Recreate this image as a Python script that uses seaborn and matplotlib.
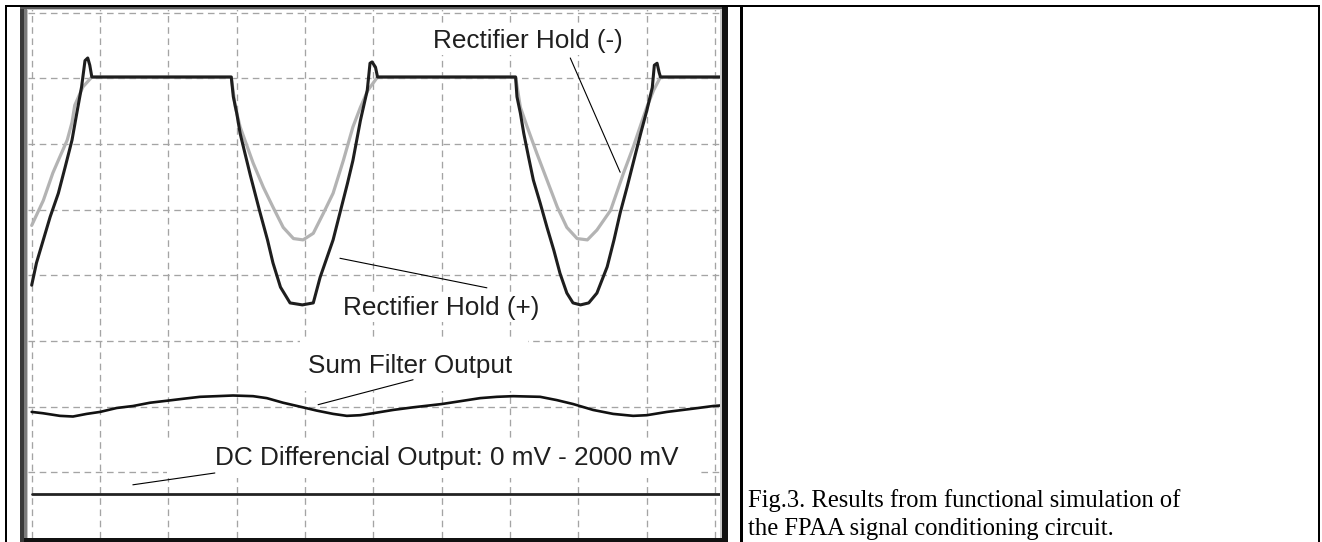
"""
Oscilloscope-style trace of the FPAA rectifier / filter outputs, with caption cell.
Run: python plot.py  -> out.png
"""
import matplotlib
matplotlib.use("Agg")
import matplotlib.pyplot as plt
from matplotlib.patches import Rectangle
import seaborn as sns
import pandas as pd

W, H = 1322, 542

# x in screen divisions (0..10), y in vertical divisions (0..8)
hold_pos_x = [0, 0.07, 0.17, 0.27, 0.39, 0.49, 0.59, 0.66, 0.73, 0.78, 0.82, 0.85, 0.88,
              2.92, 2.95, 3.00, 3.05, 3.12, 3.20, 3.24, 3.34, 3.45, 3.53, 3.64, 3.78, 3.96,
              4.12, 4.22, 4.41, 4.51, 4.62, 4.70, 4.81, 4.91, 4.95, 4.98, 5.03, 5.06,
              7.08, 7.10, 7.15, 7.20, 7.27, 7.34, 7.44, 7.54, 7.64, 7.73, 7.83, 7.92, 8.03,
              8.15, 8.27, 8.42, 8.52, 8.61, 8.71, 8.81, 8.91, 9.00, 9.08, 9.11, 9.15, 9.18,
              9.20, 10.1]
hold_pos_y = [3.85, 4.19, 4.54, 4.89, 5.25, 5.65, 6.06, 6.47, 6.87, 7.27, 7.31, 7.20, 7.02,
              7.02, 6.72, 6.47, 6.16, 5.86, 5.52, 5.36, 4.96, 4.54, 4.19, 3.82, 3.58, 3.55,
              3.58, 3.97, 4.54, 4.95, 5.40, 5.75, 6.36, 6.82, 7.23, 7.25, 7.17, 7.02,
              7.02, 6.72, 6.47, 6.16, 5.80, 5.45, 5.10, 4.73, 4.38, 4.03, 3.73, 3.58, 3.55,
              3.58, 3.73, 4.13, 4.54, 4.95, 5.34, 5.75, 6.16, 6.51, 6.86, 7.20, 7.23, 7.09,
              7.02, 7.02]

hold_neg_x = [0, 0.17, 0.31, 0.41, 0.52, 0.59, 0.63, 0.75, 0.88,
              2.92, 2.98, 3.05, 3.24, 3.39, 3.53, 3.68, 3.83, 3.97, 4.12, 4.27, 4.41, 4.56,
              4.70, 4.81, 4.92, 5.06,
              7.08, 7.15, 7.25, 7.39, 7.54, 7.69, 7.83, 7.98, 8.13, 8.27, 8.47, 8.66, 8.80,
              8.95, 9.00, 9.10, 9.20, 10.1]
hold_neg_y = [4.76, 5.14, 5.56, 5.80, 6.06, 6.33, 6.59, 6.87, 7.02,
              7.02, 6.56, 6.26, 5.71, 5.34, 5.04, 4.73, 4.56, 4.54, 4.64, 4.95, 5.25, 5.75,
              6.26, 6.56, 6.82, 7.02,
              7.02, 6.56, 6.26, 5.86, 5.45, 5.04, 4.73, 4.56, 4.54, 4.69, 4.99, 5.56, 5.95,
              6.41, 6.56, 6.82, 7.02, 7.02]

sum_x = [0, 0.165, 0.414, 0.604, 0.805, 1.0, 1.244, 1.483, 1.731, 1.976, 2.214, 2.463,
         2.708, 2.946, 3.239, 3.440, 3.678, 3.927, 4.171, 4.410, 4.611, 4.805, 4.995,
         5.287, 5.580, 6.0, 6.312, 6.561, 6.805, 7.044, 7.439, 7.683, 7.922, 8.214,
         8.507, 8.800, 9.0, 9.293, 9.678, 9.971, 10.1]
sum_y = [1.92, 1.90, 1.86, 1.85, 1.89, 1.92, 1.98, 2.01, 2.06, 2.09, 2.12, 2.15,
         2.16, 2.17, 2.16, 2.13, 2.06, 2.00, 1.94, 1.89, 1.86, 1.87, 1.90,
         1.95, 1.99, 2.04, 2.09, 2.13, 2.15, 2.16, 2.15, 2.10, 2.04, 1.95,
         1.89, 1.86, 1.87, 1.92, 1.97, 2.01, 2.02]

dc_x = [0, 10.1]
dc_y = [0.665, 0.665]

caption = ["Fig.3. Results from functional simulation of",
           "the FPAA signal conditioning circuit."]

sns.set_theme(style="white")
plt.rcParams["font.family"] = ["Liberation Sans", "DejaVu Sans"]


def fig_box(x0, y0, x1, y1):
    # pixel box (top-left origin) -> figure fraction [l, b, w, h]
    return [x0 / W, 1 - y1 / H, (x1 - x0) / W, (y1 - y0) / H]


def px_rect(fig, x0, y0, x1, y1, color):
    l, b, w, h = fig_box(x0, y0, x1, y1)
    fig.add_artist(Rectangle((l, b), w, h, transform=fig.transFigure,
                             facecolor=color, edgecolor="none", zorder=10))


fig = plt.figure(figsize=(W / 100, H / 100), dpi=100)
ax = fig.add_axes(fig_box(28, 9, 722, 538))
ax.set_xlim(-0.054, 10.10)
ax.set_ylim(0, 8.056)
ax.axis("off")

# --- dashed screen grid ---
grid_kw = dict(color="#a4a4a4", lw=0.95, linestyle=(0, (5, 3.5)), zorder=1)
for v in range(11):
    ax.axvline(v, **grid_kw)
for h in range(1, 9):
    ax.axhline(h, **grid_kw)

# white label backgrounds that cut the grid
ax.add_patch(Rectangle((3.93, 2.24), 3.33, 0.81, facecolor="white", edgecolor="none", zorder=1.5))
ax.add_patch(Rectangle((1.98, 0.91), 7.80, 0.55, facecolor="white", edgecolor="none", zorder=1.5))

# --- traces ---
neg = pd.DataFrame({"x": hold_neg_x, "y": hold_neg_y})
pos = pd.DataFrame({"x": hold_pos_x, "y": hold_pos_y})
filt = pd.DataFrame({"x": sum_x, "y": sum_y})
dc = pd.DataFrame({"x": dc_x, "y": dc_y})

sns.lineplot(data=neg, x="x", y="y", ax=ax, sort=False, estimator=None,
             color="#b3b3b3", linewidth=2.3, zorder=3)
sns.lineplot(data=pos, x="x", y="y", ax=ax, sort=False, estimator=None,
             color="#1e1e1e", linewidth=2.2, zorder=4)
sns.lineplot(data=filt, x="x", y="y", ax=ax, sort=False, estimator=None,
             color="#111111", linewidth=1.9, zorder=4)
sns.lineplot(data=dc, x="x", y="y", ax=ax, sort=False, estimator=None,
             color="#222222", linewidth=2.0, zorder=4)

# --- labels and leader lines ---
lab_kw = dict(fontsize=18.8, color="#1f1f1f", va="baseline", ha="left", zorder=5)
box = dict(facecolor="white", edgecolor="none", pad=1.5)
ax.text(5.87, 7.46, "Rectifier Hold (-)", bbox=box, **lab_kw)
ax.text(4.56, 3.40, "Rectifier Hold (+)", bbox=box, **lab_kw)
ax.text(4.04, 2.51, "Sum Filter Output", **lab_kw)
ax.text(2.68, 1.11, "DC Differencial Output: 0 mV - 2000 mV", **lab_kw)

lead = dict(arrowstyle="-", color="black", lw=0.8, shrinkA=0, shrinkB=0)
for tip, tail in [((8.61, 5.57), (7.88, 7.31)),
                  ((4.51, 4.26), (6.66, 3.81)),
                  ((4.19, 2.03), (5.58, 2.41)),
                  ((1.48, 0.81), (2.68, 0.99))]:
    ax.annotate("", xy=tip, xytext=tail, arrowprops=lead, zorder=5)

# --- scope bezel ---
px_rect(fig, 20, 7, 24, 542, "#3a3a3a")
px_rect(fig, 24, 7, 27, 542, "#7c7c7c")
px_rect(fig, 27, 9, 28, 538, "#c4c4c4")
px_rect(fig, 20, 7, 728, 9, "#5a5a5a")
px_rect(fig, 27, 9, 722, 10, "#c4c4c4")
px_rect(fig, 720, 9, 722, 538, "#c8c8c8")
px_rect(fig, 722, 7, 728, 542, "#111111")
px_rect(fig, 24, 538, 728, 542, "#111111")

# --- table cell borders ---
px_rect(fig, 5, 5, 1320, 7, "black")
px_rect(fig, 5, 5, 7, 542, "black")
px_rect(fig, 740, 5, 742.5, 542, "black")
px_rect(fig, 1318, 5, 1320, 542, "black")

# --- caption ---
for i, line in enumerate(caption):
    fig.text(748 / W, 1 - (507 + 28.5 * i) / H, line, fontsize=17.7,
             family=["Liberation Serif", "DejaVu Serif"], color="black", va="baseline")

fig.savefig("out.png", dpi=100)
plt.close(fig)
